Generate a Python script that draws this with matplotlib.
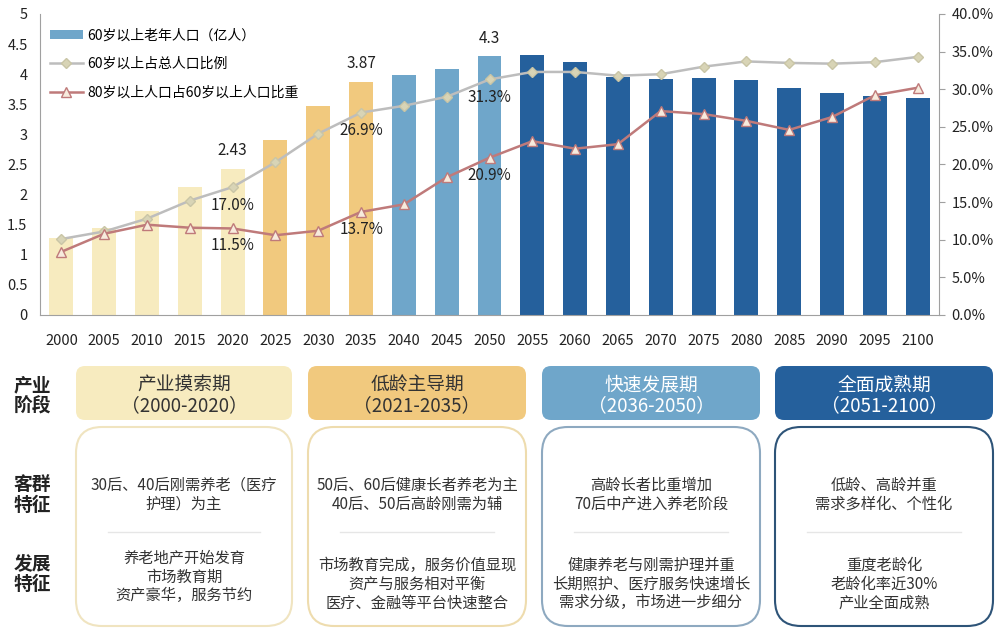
import matplotlib
matplotlib.use('Agg')
import matplotlib.pyplot as plt
from matplotlib.patches import FancyBboxPatch, Patch
from matplotlib.lines import Line2D

plt.rcParams['font.family'] = ['Noto Sans CJK SC', 'DejaVu Sans']

# data
years = [2000, 2005, 2010, 2015, 2020, 2025, 2030, 2035, 2040, 2045, 2050,
         2055, 2060, 2065, 2070, 2075, 2080, 2085, 2090, 2095, 2100]
pop60 = [1.28, 1.44, 1.73, 2.12, 2.43, 2.91, 3.48, 3.87, 3.98, 4.09, 4.30,
         4.32, 4.20, 3.96, 3.92, 3.93, 3.91, 3.77, 3.68, 3.63, 3.60]
share60 = [10.1, 11.1, 12.8, 15.2, 17.0, 20.3, 24.1, 26.9, 27.8, 29.0, 31.3,
           32.3, 32.3, 31.8, 32.0, 33.0, 33.7, 33.5, 33.4, 33.6, 34.3]
share80 = [8.4, 10.8, 12.0, 11.6, 11.5, 10.6, 11.2, 13.7, 14.7, 18.3, 20.9,
           23.1, 22.1, 22.7, 27.1, 26.7, 25.8, 24.6, 26.3, 29.2, 30.2]
stage = [0, 0, 0, 0, 0, 1, 1, 1, 2, 2, 2,
         3, 3, 3, 3, 3, 3, 3, 3, 3, 3]
bar_labels = {4: '2.43', 7: '3.87', 10: '4.3'}
pct_labels = {4: ('17.0%', '11.5%'), 7: ('26.9%', '13.7%'), 10: ('31.3%', '20.9%')}

stage_colors = ['#F7EBBF', '#F1C97E', '#6FA6CA', '#25609C']
box_edges = ['#F0E4C0', '#EEDCAE', '#8EA9C0', '#2E5478']
head_text = ['#333333', '#333333', 'white', 'white']
stage_names = ['产业摸索期', '低龄主导期', '快速发展期', '全面成熟期']
stage_years = ['（2000-2020）', '（2021-2035）', '（2036-2050）', '（2051-2100）']
group_text = ['30后、40后刚需养老（医疗\n护理）为主',
              '50后、60后健康长者养老为主\n40后、50后高龄刚需为辅',
              '高龄长者比重增加\n70后中产进入养老阶段',
              '低龄、高龄并重\n需求多样化、个性化']
dev_text = ['养老地产开始发育\n市场教育期\n资产豪华，服务节约',
            '市场教育完成，服务价值显现\n资产与服务相对平衡\n医疗、金融等平台快速整合',
            '健康养老与刚需护理并重\n长期照护、医疗服务快速增长\n需求分级，市场进一步细分',
            '重度老龄化\n老龄化率近30%\n产业全面成熟']
row_labels = ['产业\n阶段', '客群\n特征', '发展\n特征']

W, H = 999, 633
fig = plt.figure(figsize=(W / 100, H / 100), dpi=100)

# ---- lower table drawn in pixel coords
bg = fig.add_axes([0, 0, 1, 1])
bg.set_xlim(0, W)
bg.set_ylim(H, 0)
bg.axis('off')

col_x = [(76, 292), (308, 526), (542, 760), (775, 993)]
dev_y = [577, 584, 584, 584]
for i, (x0, x1) in enumerate(col_x):
    bg.add_patch(FancyBboxPatch((x0, 366), x1 - x0, 54,
                                boxstyle='round,pad=0,rounding_size=9',
                                fc=stage_colors[i], ec='none'))
    bg.text((x0 + x1) / 2, 385, stage_names[i], ha='center', va='center',
            fontsize=13.5, color=head_text[i])
    bg.text((x0 + x1) / 2, 406, stage_years[i], ha='center', va='center',
            fontsize=13.5, color=head_text[i])
    bg.add_patch(FancyBboxPatch((x0, 427), x1 - x0, 199,
                                boxstyle='round,pad=0,rounding_size=26',
                                fc='white', ec=box_edges[i], lw=1.5))
    bg.plot([x0 + 32, x1 - 32], [532, 532], color='#E6E6E6', lw=1)
    bg.text((x0 + x1) / 2, 495, group_text[i], ha='center', va='center',
            fontsize=11, color='#333333', linespacing=1.15)
    bg.text((x0 + x1) / 2, dev_y[i], dev_text[i], ha='center', va='center',
            fontsize=11, color='#333333', linespacing=1.15)

for lab, y in zip(row_labels, [396, 495, 574]):
    bg.text(32, y, lab, ha='center', va='center', fontsize=13.5,
            fontweight='bold', color='#222222', linespacing=1.1)

# ---- chart
ax = fig.add_axes([40 / W, 1 - 315 / H, 899 / W, 301 / H])
xs = list(range(len(years)))
ax.bar(xs, pop60, width=0.56, color=[stage_colors[s] for s in stage], zorder=2)
ax.set_xlim(-0.5, len(years) - 0.5)
ax.set_ylim(0, 5)
ax.set_yticks([0, 0.5, 1, 1.5, 2, 2.5, 3, 3.5, 4, 4.5, 5])
ax.set_yticklabels(['0', '0.5', '1', '1.5', '2', '2.5', '3', '3.5', '4', '4.5', '5'])
ax.set_xticks(xs)
ax.set_xticklabels([str(y) for y in years])
ax.tick_params(axis='x', length=0, pad=14, labelsize=10.5, colors='#222222')
ax.tick_params(axis='y', length=0, pad=9, labelsize=10.5, colors='#222222')
for sp in ['top', 'right']:
    ax.spines[sp].set_visible(False)
for sp in ['left', 'bottom']:
    ax.spines[sp].set_color('#A0A0A0')

ax2 = ax.twinx()
ax2.plot(xs, share60, color='#BDBDBD', lw=1.8, marker='D', ms=5,
         mfc='#D8D4B6', mec='#C9C5A6', zorder=3)
ax2.plot(xs, share80, color='#BF7A7A', lw=1.8, marker='^', ms=6.5,
         mfc='#F7EBDD', mec='#BF7A7A', zorder=3)
ax2.set_ylim(0, 40)
ax2.set_yticks(range(0, 41, 5))
ax2.set_yticklabels(['%.1f%%' % v for v in range(0, 41, 5)])
ax2.tick_params(axis='y', length=4, colors='#A0A0A0', labelcolor='#222222',
                labelsize=10.5, pad=5)
for sp in ['top', 'left', 'bottom']:
    ax2.spines[sp].set_visible(False)
ax2.spines['right'].set_color('#A0A0A0')

for i, t in bar_labels.items():
    ax.text(xs[i], pop60[i] + 0.16, t, ha='center', va='bottom', fontsize=11, color='#222222')
for i, (a, b) in pct_labels.items():
    ax2.text(xs[i], share60[i] - 1.3, a, ha='center', va='top', fontsize=11, color='#222222')
    ax2.text(xs[i], share80[i] - 1.2, b, ha='center', va='top', fontsize=11, color='#222222')

handles = [Patch(fc='#6FA6CA', ec='none'),
           Line2D([], [], color='#BDBDBD', lw=1.8, marker='D', ms=5, mfc='#D8D4B6', mec='#C9C5A6'),
           Line2D([], [], color='#BF7A7A', lw=1.8, marker='^', ms=6.5, mfc='#F7EBDD', mec='#BF7A7A')]
names = ['60岁以上老年人口（亿人）', '60岁以上占总人口比例', '80岁以上人口占60岁以上人口比重']
ax2.legend(handles, names, loc='upper left', bbox_to_anchor=(0.0, 0.985), frameon=False,
           fontsize=10, handlelength=2.4, handletextpad=0.3, labelspacing=1.05,
           borderaxespad=0.3)

fig.savefig('out.png', dpi=100)
